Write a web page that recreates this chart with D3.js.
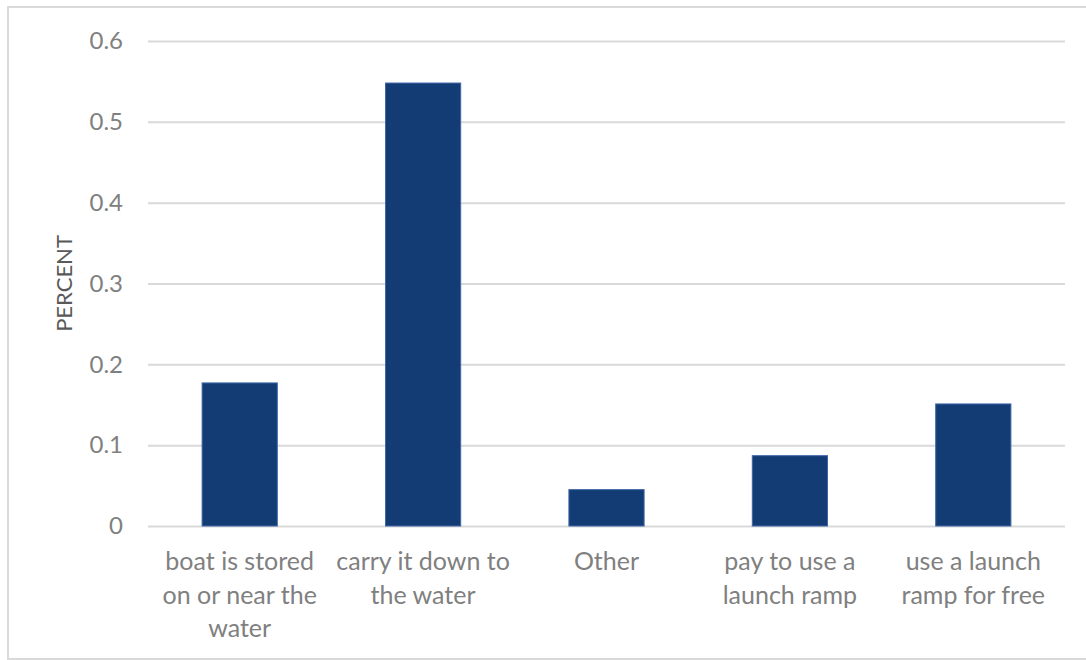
<!DOCTYPE html>
<html><head><meta charset="utf-8">
<script src="https://cdn.jsdelivr.net/npm/d3@7"></script>
<style>body{margin:0;background:#fff;} text{font-family:Lato,"Open Sans",sans-serif;}</style>
</head><body>
<svg id="c" width="1086" height="660"></svg>
<script>
const categories = ["boat is stored on or near the water","carry it down to the water","Other","pay to use a launch ramp","use a launch ramp for free"];
const categoryLines = [["boat is stored","on or near the","water"],["carry it down to","the water"],["Other"],["pay to use a","launch ramp"],["use a launch","ramp for free"]];
const values = [0.177, 0.548, 0.045, 0.087, 0.151];
const yTicks = [0, 0.1, 0.2, 0.3, 0.4, 0.5, 0.6];
const yTitle = "PERCENT";

(function(){
const svg = d3.select("#c");
svg.append("rect").attr("x",8).attr("y",7).attr("width",1090).attr("height",652)
  .attr("fill","#fff").attr("stroke","#d9d9d9").attr("stroke-width",2);

const pL=148, pR=1065, pT=41, pB=526;
const x = d3.scaleBand().domain(categories).range([pL,pR]).paddingInner(0.59).paddingOuter(0.295);
const y = d3.scaleLinear().domain([0,0.6]).range([pB,pT]);

const yAxis = svg.append("g").attr("transform",`translate(${pL},0)`)
  .call(d3.axisLeft(y).tickValues(yTicks).tickFormat(d=>String(+d.toFixed(1))).tickSize(-(pR-pL)).tickPadding(25));
yAxis.select(".domain").remove();
yAxis.selectAll(".tick line").attr("stroke","#d9d9d9").attr("stroke-width",2);
yAxis.selectAll(".tick text").attr("fill","#808080").attr("font-size",24);

svg.append("g").selectAll("rect").data(values).join("rect")
  .attr("x",(d,i)=>x(categories[i])).attr("width",x.bandwidth())
  .attr("y",d=>y(d)).attr("height",d=>y(0)-y(d))
  .attr("fill","#133c74").attr("stroke","#3f66a8").attr("stroke-width",1);

const xl = svg.append("g");
categoryLines.forEach((lines,i)=>{
  const cx = x(categories[i]) + x.bandwidth()/2;
  const t = xl.append("text").attr("text-anchor","middle").attr("fill","#808080").attr("font-size",25)
    .attr("x", cx).attr("y",570);
  lines.forEach((l,j)=>t.append("tspan").attr("x", cx).attr("dy", j===0?0:33.5).text(l));
});

svg.append("text").attr("transform",`translate(72,${(pT+pB)/2}) rotate(-90)`)
  .attr("text-anchor","middle").attr("fill","#595959").attr("font-size",22).text(yTitle);
})();
</script>
</body></html>
